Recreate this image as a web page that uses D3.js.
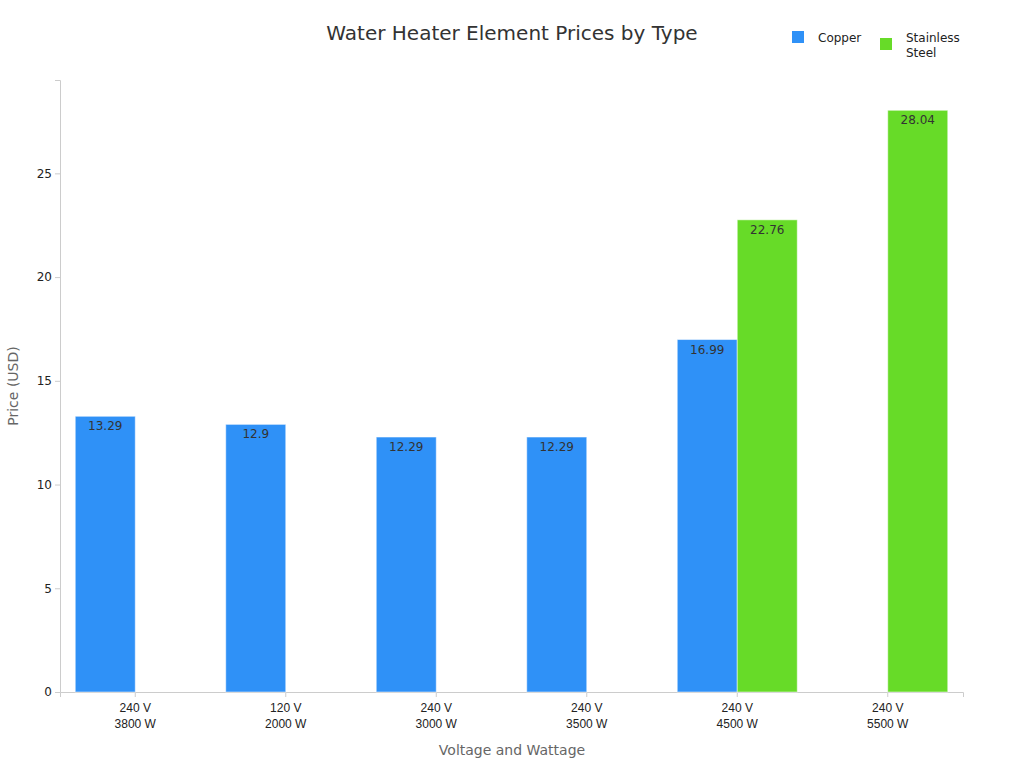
<!DOCTYPE html>
<html><head><meta charset="utf-8">
<script src="https://cdn.jsdelivr.net/npm/d3@7"></script>
<style>body{margin:0;background:#fff;font-family:"DejaVu Sans",sans-serif}</style>
</head><body><svg id="c" width="1024" height="768"></svg>
<script>
const categories=[["240 V","3800 W"],["120 V","2000 W"],["240 V","3000 W"],["240 V","3500 W"],["240 V","4500 W"],["240 V","5500 W"]];
const copper=[13.29,12.9,12.29,12.29,16.99,null];
const steel=[null,null,null,null,22.76,28.04];
const yTicks=[0,5,10,15,20,25];
const svg=d3.select("#c");
const m={l:60,r:963,t:80,b:692};
const x=d3.scaleBand().domain(d3.range(categories.length)).range([m.l,m.r]);
const xs=d3.scaleBand().domain(["c","s"]).range([0,120]);
const y=d3.scaleLinear().domain([0,29.5]).range([m.b,m.t]);
const colors={c:"#2f91f7",s:"#67db28"};
const ga=svg.append("g").attr("transform",`translate(0,${m.b})`).call(d3.axisBottom(x).tickSize(5).tickFormat(""));
ga.selectAll("line,path").attr("stroke","#ccc");
ga.selectAll(".tick").each(function(d){const t=d3.select(this).append("text").attr("fill","#222").attr("font-size",12).attr("text-anchor","middle");
 t.append("tspan").attr("x",0).attr("y",20).text(categories[d][0]);t.append("tspan").attr("x",0).attr("y",36).text(categories[d][1]);});
const gy=svg.append("g").attr("transform",`translate(${m.l},0)`).call(d3.axisLeft(y).tickValues(yTicks).tickSize(5));
gy.selectAll("line,path").attr("stroke","#ccc");gy.selectAll("text").attr("fill","#222").attr("font-size",12).attr("font-family","DejaVu Sans");
[["c",copper],["s",steel]].forEach(([k,arr])=>{
 arr.forEach((v,i)=>{if(v==null)return;
  const bx=x(i)+x.bandwidth()/2+(k=="c"?-60:0);
  svg.append("rect").attr("x",bx).attr("y",y(v)).attr("width",60).attr("height",y(0)-y(v)).attr("fill",colors[k]).attr("stroke","#fff").attr("stroke-opacity",0.5);
  svg.append("text").attr("x",bx+30).attr("y",y(v)+14).attr("text-anchor","middle").attr("font-size",12).attr("fill","#333").text(v);
 });});
svg.append("text").attr("x",512).attr("y",40).attr("text-anchor","middle").attr("font-size",20).attr("fill","#333").text("Water Heater Element Prices by Type");
svg.append("text").attr("x",512).attr("y",755).attr("text-anchor","middle").attr("font-size",14).attr("fill","#666").text("Voltage and Wattage");
svg.append("text").attr("transform","translate(18,386) rotate(-90)").attr("text-anchor","middle").attr("font-size",14).attr("fill","#666").text("Price (USD)");
svg.append("rect").attr("x",792).attr("y",31).attr("width",12).attr("height",12).attr("fill",colors.c);
svg.append("text").attr("x",818).attr("y",42).attr("font-size",12).attr("fill","#222").text("Copper");
svg.append("rect").attr("x",880).attr("y",38).attr("width",12).attr("height",12).attr("fill",colors.s);
const lt=svg.append("text").attr("font-size",12).attr("fill","#222");
lt.append("tspan").attr("x",906).attr("y",42).text("Stainless");lt.append("tspan").attr("x",906).attr("y",57).text("Steel");
</script></body></html>
